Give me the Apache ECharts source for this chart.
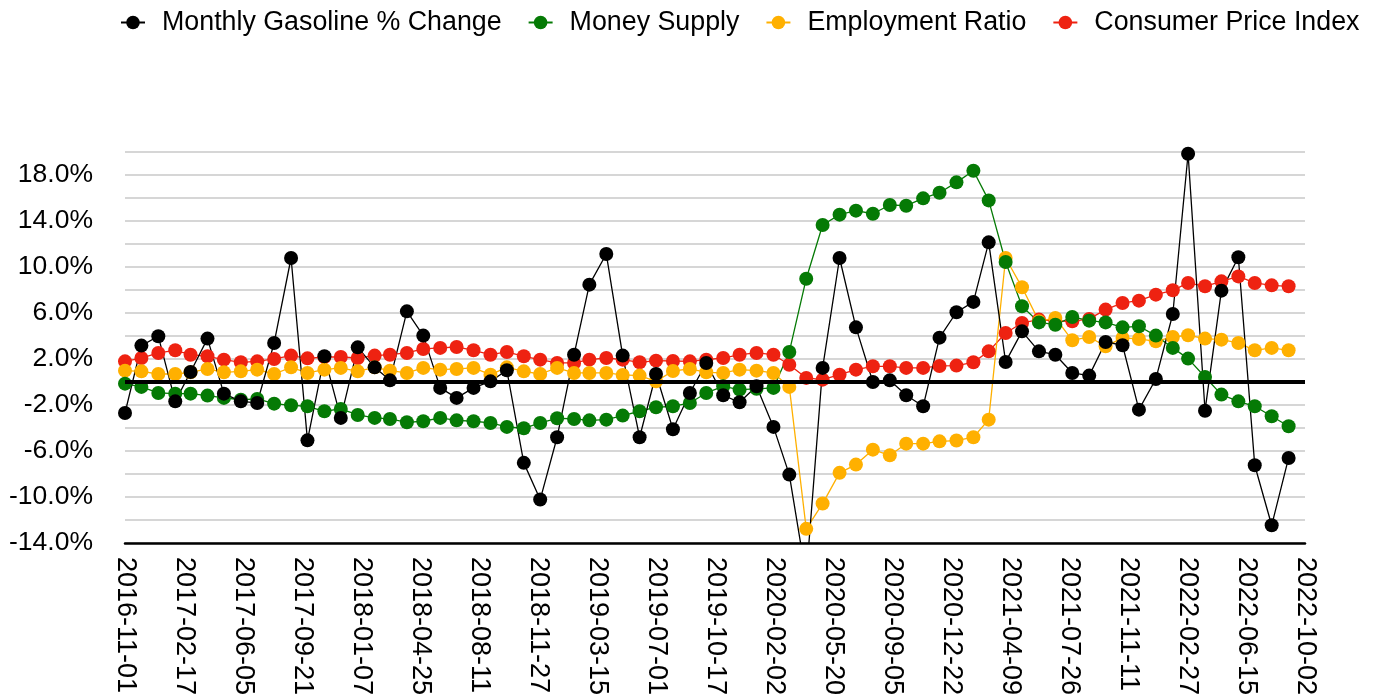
<!DOCTYPE html>
<html>
<head>
<meta charset="utf-8">
<script src="https://cdn.jsdelivr.net/npm/echarts@6/dist/echarts.min.js"></script>
<style>
html,body{margin:0;padding:0;background:#fff;}
#chart{width:1377px;height:698px;}
</style>
</head>
<body>
<div id="chart"></div>
<script>
// Monthly observation dates (first of month)
const months = [
 '2016-11','2016-12',
 '2017-01','2017-02','2017-03','2017-04','2017-05','2017-06','2017-07','2017-08','2017-09','2017-10','2017-11','2017-12',
 '2018-01','2018-02','2018-03','2018-04','2018-05','2018-06','2018-07','2018-08','2018-09','2018-10','2018-11','2018-12',
 '2019-01','2019-02','2019-03','2019-04','2019-05','2019-06','2019-07','2019-08','2019-09','2019-10','2019-11','2019-12',
 '2020-01','2020-02','2020-03','2020-04','2020-05','2020-06','2020-07','2020-08','2020-09','2020-10','2020-11','2020-12',
 '2021-01','2021-02','2021-03','2021-04','2021-05','2021-06','2021-07','2021-08','2021-09','2021-10','2021-11','2021-12',
 '2022-01','2022-02','2022-03','2022-04','2022-05','2022-06','2022-07','2022-08','2022-09'
];

const gasolineChange = [
 -2.7, 3.16, 3.97, -1.69, 0.87, 3.77, -1.02, -1.69, -1.83, 3.39, 10.78, -5.08, 2.23, -3.13, 3.01, 1.27, 0.14,
 6.14, 4.03, -0.52, -1.39, -0.52, 0.05, 1.01, -7.04, -10.23, -4.81, 2.37, 8.46, 11.13, 2.29, -4.81, 0.69,
 -4.12, -0.96, 1.65, -1.16, -1.77, -0.38, -3.91, -8.06, -17.0, 1.22, 10.78, 4.75, 0.0, 0.14, -1.16, -2.12,
 3.85, 6.06, 6.96, 12.14, 1.74, 4.4, 2.66, 2.37, 0.78, 0.55, 3.48, 3.19, -2.41, 0.26, 5.91, 19.85, -2.5,
 7.94, 10.84, -7.25, -12.47, -6.61
];

const moneySupply = [
 -0.15, -0.43, -0.96, -1.02, -1.02, -1.19, -1.39, -1.55, -1.48, -1.89, -2.03, -2.12, -2.55, -2.35, -2.87, -3.13, -3.22,
 -3.51, -3.42, -3.13, -3.34, -3.42, -3.57, -3.91, -4.03, -3.57, -3.16, -3.22, -3.34, -3.28, -2.93, -2.55, -2.2,
 -2.12, -1.83, -0.96, -0.38, -0.67, -0.6, -0.52, 2.61, 8.98, 13.65, 14.55, 14.9, 14.63, 15.39, 15.33, 15.97,
 16.46, 17.36, 18.37, 15.79, 10.43, 6.58, 5.18, 4.98, 5.65, 5.33, 5.18, 4.75, 4.84, 4.03, 2.96, 2.03, 0.43,
 -1.1, -1.69, -2.12, -2.99, -3.86
];

const employmentRatio = [
 0.98, 0.92, 0.69, 0.69, 0.84, 1.13, 0.84, 0.92, 1.07, 0.69, 1.27, 0.78, 1.07, 1.22, 0.92, 1.27, 0.98,
 0.78, 1.22, 1.07, 1.13, 1.22, 0.63, 1.27, 0.92, 0.69, 1.22, 0.78, 0.78, 0.78, 0.61, 0.55, 0.05,
 0.95, 1.13, 0.84, 0.78, 1.07, 0.98, 0.78, -0.43, -12.78, -10.58, -7.91, -7.19, -5.89, -6.38, -5.37, -5.37,
 -5.17, -5.1, -4.81, -3.28, 10.78, 8.23, 5.27, 5.57, 3.62, 3.91, 3.1, 3.83, 3.74, 3.53, 3.91, 4.06, 3.77,
 3.68, 3.39, 2.75, 2.96, 2.75
];

const consumerPriceIndex = [
 1.79, 2.08, 2.52, 2.75, 2.37, 2.23, 1.94, 1.71, 1.79, 2.0, 2.29, 2.05, 2.17, 2.17, 2.08, 2.29, 2.37,
 2.52, 2.87, 2.96, 3.04, 2.75, 2.37, 2.61, 2.23, 1.94, 1.65, 1.65, 1.94, 2.08, 1.94, 1.71, 1.85,
 1.82, 1.79, 1.94, 2.08, 2.37, 2.52, 2.37, 1.5, 0.35, 0.2, 0.63, 1.07, 1.36, 1.36, 1.22, 1.22,
 1.39, 1.42, 1.71, 2.66, 4.26, 5.13, 5.42, 5.3, 5.27, 5.48, 6.29, 6.87, 7.07, 7.59, 7.97, 8.61, 8.32,
 8.75, 9.18, 8.61, 8.4, 8.32
];

const xTickLabels = [
 '2016-11-01','2017-02-17','2017-06-05','2017-09-21','2018-01-07','2018-04-25','2018-08-11',
 '2018-11-27','2019-03-15','2019-07-01','2019-10-17','2020-02-02','2020-05-20','2020-09-05',
 '2020-12-22','2021-04-09','2021-07-26','2021-11-11','2022-02-27','2022-06-15','2022-10-02'
];

const startDay = Date.UTC(2016, 10, 1);
const tickStepDays = 108;
function dayOffset(ym) {
  const p = ym.split('-');
  return (Date.UTC(+p[0], +p[1] - 1, 1) - startDay) / 86400000;
}
const xs = months.map(dayOffset);
function pairs(vals) { return vals.map((v, i) => [xs[i], v]); }

const FONT = 'Liberation Sans, Arial, Helvetica, sans-serif';
const FS = 26.5;

function lineSeries(name, color, vals, extra) {
  return Object.assign({
    name: name,
    type: 'line',
    data: pairs(vals),
    symbol: 'circle',
    symbolSize: 14,
    showSymbol: true,
    lineStyle: { color: color, width: 1.3 },
    itemStyle: { color: color, borderWidth: 0 },
    emphasis: { disabled: true },
    clip: true
  }, extra || {});
}

const chart = echarts.init(document.getElementById('chart'), null, { renderer: 'canvas' });
chart.setOption({
  animation: false,
  backgroundColor: '#ffffff',
  textStyle: { fontFamily: FONT },
  legend: {
    data: ['Monthly Gasoline % Change', 'Money Supply', 'Employment Ratio', 'Consumer Price Index'],
    left: 115,
    top: 4,
    itemWidth: 24,
    itemHeight: 17,
    itemGap: 26,
    textStyle: { fontSize: 26.8, color: '#000', fontFamily: FONT, padding: [0, 0, 0, 12] }
  },
  grid: { left: 125, right: 72, top: 152, bottom: 155, containLabel: false },
  xAxis: {
    type: 'value',
    min: 0,
    max: tickStepDays * (xTickLabels.length - 1),
    interval: tickStepDays,
    axisLine: { show: true, onZero: false, lineStyle: { color: '#000', width: 2.5 } },
    axisTick: { show: false },
    splitLine: { show: false },
    axisLabel: {
      rotate: -90,
      margin: 14,
      fontSize: 27,
      color: '#000',
      fontFamily: FONT,
      formatter: function (v) { return xTickLabels[Math.round(v / tickStepDays)] || ''; }
    }
  },
  yAxis: {
    type: 'value',
    min: -14,
    max: 20,
    interval: 2,
    axisLine: { show: false },
    axisTick: { show: false },
    splitLine: { show: true, lineStyle: { color: '#c8c8c8', width: 1.5 } },
    axisLabel: {
      margin: 32,
      fontSize: FS,
      color: '#000',
      fontFamily: FONT,
      formatter: function (v) { return ((Math.round(v) + 14) % 4 === 0) ? v.toFixed(1) + '%' : ''; }
    }
  },
  series: [
    lineSeries('Consumer Price Index', '#ee2211', consumerPriceIndex),
    lineSeries('Employment Ratio', '#ffb000', employmentRatio),
    lineSeries('Money Supply', '#057a05', moneySupply),
    lineSeries('Monthly Gasoline % Change', '#000000', gasolineChange, {
      markLine: {
        silent: true,
        symbol: ['none', 'none'],
        label: { show: false },
        lineStyle: { color: '#000', width: 4, type: 'solid' },
        data: [{ yAxis: 0 }]
      }
    })
  ]
});
</script>
</body>
</html>
